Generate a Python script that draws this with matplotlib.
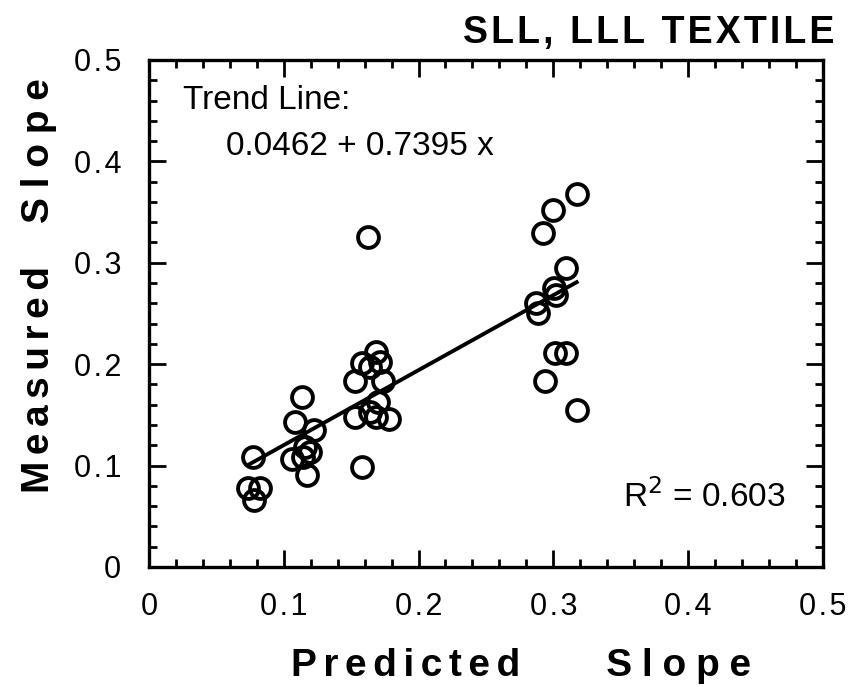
import numpy as np
import matplotlib as mpl
import matplotlib.pyplot as plt
from matplotlib.ticker import MultipleLocator

# === Setup ===
mpl.rcParams['font.family'] = ['Liberation Sans', 'DejaVu Sans']
mpl.rcParams['xtick.direction'] = 'in'
mpl.rcParams['ytick.direction'] = 'in'

# === Data ===
predicted = [0.0774, 0.0737, 0.0823, 0.0779,
             0.1132, 0.1083, 0.1224, 0.1157, 0.1194, 0.1058, 0.1145, 0.1170,
             0.1584, 0.1528, 0.1528, 0.1688, 0.1714, 0.1578, 0.1639, 0.1738,
             0.1701, 0.1639, 0.1688, 0.1783, 0.1627,
             0.3173, 0.2994, 0.2925, 0.3093, 0.3002, 0.3019, 0.2875, 0.2888,
             0.3012, 0.3093, 0.2938, 0.3173]
measured = [0.1088, 0.0776, 0.0776, 0.0661,
            0.1673, 0.1433, 0.1351, 0.1187, 0.1137, 0.1062, 0.1088, 0.0907,
            0.0989, 0.1482, 0.1834, 0.2123, 0.2025, 0.2009, 0.1975, 0.1834,
            0.1630, 0.1532, 0.1482, 0.1456, 0.3257,
            0.3679, 0.3521, 0.3291, 0.2946, 0.2748, 0.2682, 0.2600, 0.2501,
            0.2114, 0.2114, 0.1837, 0.1548]
intercept = 0.0462
slope = 0.7395
r_squared = 0.603

HAIR = '\u200a'


def spaced(s, sep=HAIR):
    # old typesetter look: letters pulled apart a little
    return sep.join(s)


def tick_fmt(v, pos):
    return '0' if abs(v) < 1e-9 else spaced(f'{v:.1f}')


# === Plotting ===
fig = plt.figure(figsize=(8.51, 6.87), dpi=100)
ax = fig.add_axes([0.175, 0.1747, 0.792, 0.738])

ax.plot(predicted, measured, 'o', mfc='none', mec='black', ms=15, mew=2.8)

x_fit = np.array([min(predicted), max(predicted)])
ax.plot(x_fit, intercept + slope * x_fit, '-', color='black', lw=2.8)

ax.set_xlim(0, 0.5)
ax.set_ylim(0, 0.5)
ax.xaxis.set_major_locator(MultipleLocator(0.1))
ax.xaxis.set_minor_locator(MultipleLocator(0.02))
ax.yaxis.set_major_locator(MultipleLocator(0.1))
ax.yaxis.set_minor_locator(MultipleLocator(0.02))
ax.xaxis.set_major_formatter(tick_fmt)
ax.yaxis.set_major_formatter(tick_fmt)

ax.tick_params(which='both', top=True, right=True, labelsize=22, width=2)
ax.tick_params(which='major', length=12)
ax.tick_params(which='minor', length=6)
ax.tick_params(axis='x', which='major', pad=18)
ax.tick_params(axis='y', which='major', pad=20)
for sp in ax.spines.values():
    sp.set_linewidth(2.4)

label_kw = dict(fontsize=28, fontweight='bold', va='center')
ax.set_xlabel(spaced('Predicted', HAIR * 2) + ' ' * 8 + spaced('Slope', HAIR * 3),
              **label_kw)
ax.xaxis.set_label_coords(0.552, -0.195)
ax.set_ylabel(spaced('Measured', HAIR * 2) + ' ' * 4 + spaced('Slope', HAIR * 3),
              **label_kw)
ax.yaxis.set_label_coords(-0.163, 0.555)

# Annotations
ax.text(0.05, 0.92, 'Trend Line:', transform=ax.transAxes,
        fontsize=24, va='center')
ax.text(0.115, 0.83, f'{intercept:.4f} + {slope:.4f} x',
        transform=ax.transAxes, fontsize=24, va='center')
ax.text(0.944, 0.138, f'R$^2$ = {r_squared:.3f}',
        transform=ax.transAxes, fontsize=24, ha='right', va='center')
fig.text(0.981, 0.952, spaced('SLL, LLL TEXTILE'), fontsize=27,
         fontweight='bold', ha='right', va='center')

# === Export ===
plt.savefig('out.png', dpi=100)
